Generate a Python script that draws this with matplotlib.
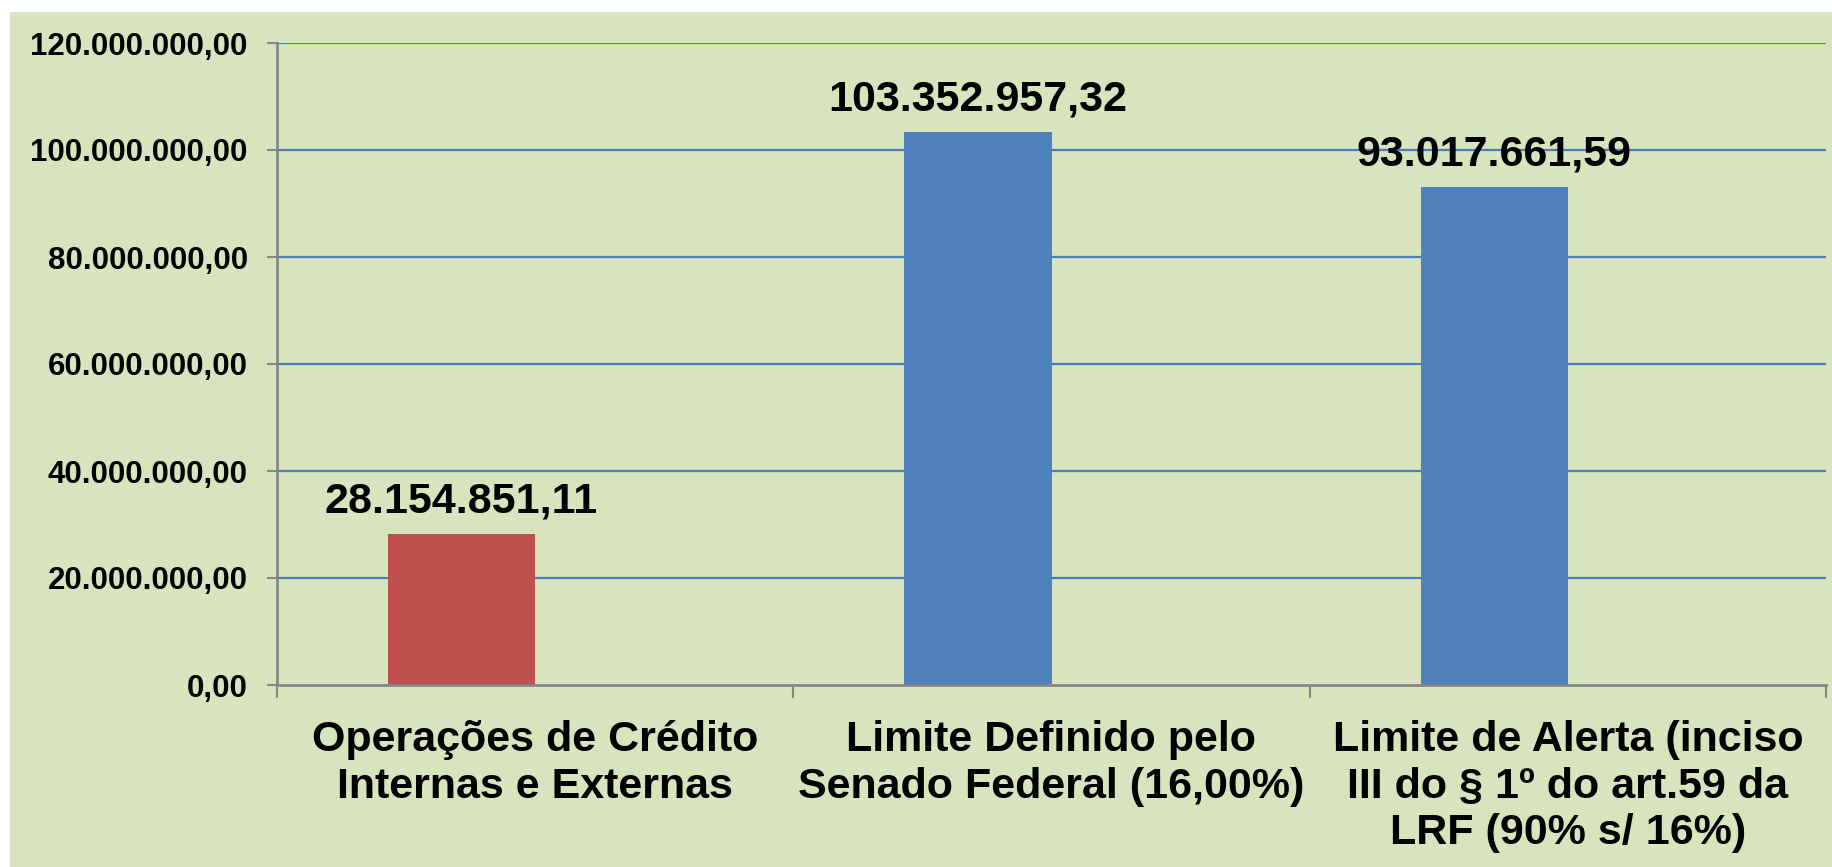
import numpy as np
import matplotlib.pyplot as plt
from matplotlib.patches import Rectangle
from matplotlib.ticker import FuncFormatter, FixedLocator

categorias = [
    'Operações de Crédito\nInternas e Externas',
    'Limite Definido pelo\nSenado Federal (16,00%)',
    'Limite de Alerta (inciso\nIII do § 1º do art.59 da\nLRF (90% s/ 16%)',
]
valores = [28154851.11, 103352957.32, 93017661.59]
cores = ['#C0504D', '#4F81BD', '#4F81BD']
yticks = [0, 20e6, 40e6, 60e6, 80e6, 100e6, 120e6]


def fmt_br(v, _=None):
    # formato brasileiro: ponto nos milhares, virgula nos decimais
    s = f'{v:,.2f}'
    return s.replace(',', 'temp').replace('.', ',').replace('temp', '.')


plt.rcParams['font.family'] = 'Liberation Sans'
plt.rcParams['font.weight'] = 'bold'

W, H = 1832, 867
fig = plt.figure(figsize=(W / 100, H / 100), dpi=100)
fig.patch.set_facecolor('white')
fundo = Rectangle((10 / W, 0), 1, 1 - 12 / H, transform=fig.transFigure,
                  facecolor='#D7E4BD', edgecolor='none', zorder=-10)
fig.add_artist(fundo)

ax = fig.add_axes([277 / W, 182 / H, (1826 - 277) / W, (685 - 43) / H])
ax.set_facecolor('none')

x = np.arange(len(valores))
w = 0.285
ax.bar(x - w / 2, valores, width=w, color=cores, zorder=3)

for xi, v in zip(x, valores):
    ax.annotate(fmt_br(v), (xi - w / 2, v), xytext=(0, 9), textcoords='offset points',
                ha='center', va='bottom', fontsize=31, fontweight='bold')

ax.set_xlim(-0.5, 2.5)
ax.set_ylim(0, 120e6)
ax.set_yticks(yticks)
ax.yaxis.set_major_formatter(FuncFormatter(fmt_br))
ax.set_xticks(x)
ax.set_xticklabels(categorias, fontsize=31, fontweight='bold', linespacing=1.22)
ax.xaxis.set_minor_locator(FixedLocator([-0.5, 0.5, 1.5, 2.5]))

ax.tick_params(axis='y', labelsize=22.5, length=7, width=1.5, color='#868686', pad=14)
ax.tick_params(axis='x', which='major', length=0, pad=25)
ax.tick_params(axis='x', which='minor', length=9, width=1.5, color='#868686')

for y in yticks[1:]:
    ax.axhline(y, color='#4A7EBB', linewidth=1.6, zorder=1)

for s in ['top', 'right']:
    ax.spines[s].set_visible(False)
for s in ['left', 'bottom']:
    ax.spines[s].set_color('#868686')
    ax.spines[s].set_linewidth(2)
ax.spines['bottom'].set_zorder(4)

fig.savefig('out.png', dpi=100)
